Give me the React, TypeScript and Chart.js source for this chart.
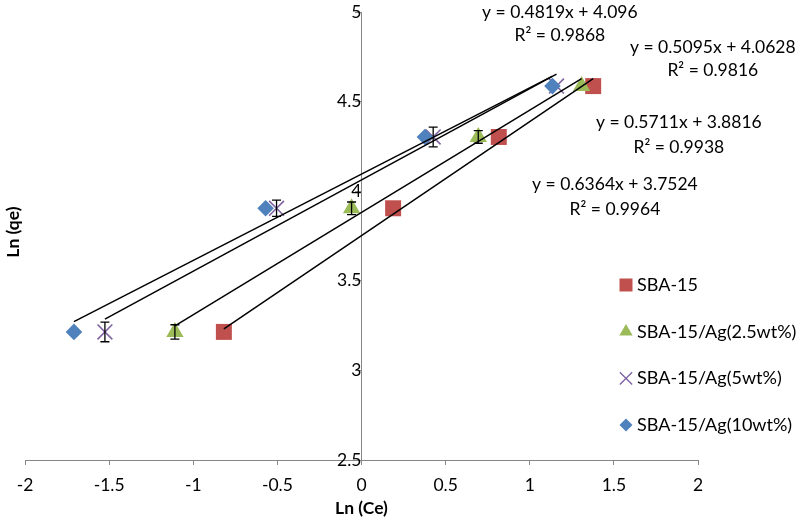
import { useEffect, useRef } from 'react';
import { Chart, registerables } from 'chart.js';
import { drawPoint } from 'chart.js/helpers';

Chart.register(...registerables);

// ---- data ----
const seriesNames = ['SBA-15', 'SBA-15/Ag(2.5wt%)', 'SBA-15/Ag(5wt%)', 'SBA-15/Ag(10wt%)'];
const lnQe = [3.215, 3.905, 4.303, 4.587];
const lnCeSBA15 = [-0.818, 0.188, 0.816, 1.377];
const lnCeAg25 = [-1.109, -0.059, 0.694, 1.308];
const lnCeAg5 = [-1.525, -0.505, 0.426, 1.159];
const lnCeAg10 = [-1.709, -0.57, 0.377, 1.135];
const errSBA15 = [0, 0, 0, 0];
const errAg25 = [0.04, 0.035, 0.035, 0];
const errAg5 = [0.055, 0.045, 0.055, 0];
const errAg10 = [0, 0, 0, 0];
const slopes = [0.6364, 0.5711, 0.5095, 0.4819];
const intercepts = [3.7524, 3.8816, 4.0628, 4.096];
const r2Values = ['0.9964', '0.9938', '0.9816', '0.9868'];
// equation label anchors (data coordinates: x, y of first line, y of second line)
const labelX = [1.506, 1.886, 2.088, 1.179];
const labelY1 = [4.037, 4.382, 4.805, 5.0];
const labelY2 = [3.898, 4.243, 4.677, 4.872];

const xSeries = [lnCeSBA15, lnCeAg25, lnCeAg5, lnCeAg10];
const errSeries = [errSBA15, errAg25, errAg5, errAg10];

// ---- styles ----
const colors = ['#C0504D', '#9BBB59', '#8064A2', '#4F81BD'];
const pointStyles = ['rect', 'triangle', 'crossRot', 'rectRot'];
const pointRadii = [11.3, 10, 10.5, 8.3];
const legendRadii = [9.2, 7.7, 8.7, 6.5];
const FONT = 'Lato';
const FS = 17.5;

export default function App() {
  const ref = useRef<HTMLCanvasElement>(null);

  useEffect(() => {
    document.body.style.margin = '0';
    const canvas = ref.current!;

    const pointSets = seriesNames.map((name, s) => ({
      label: name,
      data: xSeries[s].map((x, i) => ({ x, y: lnQe[i] })),
      errors: errSeries[s],
      pointStyle: pointStyles[s],
      pointRadius: pointRadii[s],
      pointHoverRadius: pointRadii[s],
      backgroundColor: colors[s],
      borderColor: colors[s],
      pointBorderWidth: pointStyles[s] === 'crossRot' ? 1.6 : 0,
      showLine: false,
      order: 5 - s,
    }));

    const trendSets = seriesNames.map((name, s) => {
      const xs = xSeries[s];
      const x0 = Math.min(...xs);
      const x1 = Math.max(...xs);
      return {
        label: name + ' trend',
        data: [
          { x: x0, y: slopes[s] * x0 + intercepts[s] },
          { x: x1, y: slopes[s] * x1 + intercepts[s] },
        ],
        showLine: true,
        pointRadius: 0,
        borderColor: '#000',
        borderWidth: 1.5,
        backgroundColor: '#000',
        order: 0,
      };
    });

    const errorBars = {
      id: 'errorBars',
      afterDatasetDraw(chart: any, args: any) {
        const ds = chart.data.datasets[args.index];
        if (!ds.errors) return;
        const { ctx, scales } = chart;
        const xs = scales.x;
        const ys = scales.y;
        ctx.save();
        ctx.strokeStyle = '#000';
        ctx.lineWidth = 1.3;
        ds.data.forEach((p: any, i: number) => {
          const e = ds.errors[i];
          if (!e) return;
          const px = xs.getPixelForValue(p.x);
          const top = ys.getPixelForValue(p.y + e);
          const bot = ys.getPixelForValue(p.y - e);
          ctx.beginPath();
          ctx.moveTo(px, top);
          ctx.lineTo(px, bot);
          ctx.moveTo(px - 4.5, top);
          ctx.lineTo(px + 4.5, top);
          ctx.moveTo(px - 4.5, bot);
          ctx.lineTo(px + 4.5, bot);
          ctx.stroke();
        });
        ctx.restore();
      },
    };

    const annotations = {
      id: 'annotations',
      afterDraw(chart: any) {
        const { ctx, scales, chartArea } = chart;
        const xs = scales.x;
        const ys = scales.y;
        ctx.save();
        // equations
        ctx.fillStyle = '#000';
        ctx.font = `${FS}px ${FONT}`;
        ctx.textAlign = 'center';
        ctx.textBaseline = 'middle';
        slopes.forEach((m, s) => {
          const cx = xs.getPixelForValue(labelX[s]);
          ctx.fillText(`y = ${m}x + ${intercepts[s]}`, cx, ys.getPixelForValue(labelY1[s]));
          ctx.fillText(`R² = ${r2Values[s]}`, cx, ys.getPixelForValue(labelY2[s]));
        });
        // legend
        const lx = chartArea.right - 72;
        const ly0 = 285;
        const gap = 46.7;
        seriesNames.forEach((name, s) => {
          const y = ly0 + gap * s;
          ctx.fillStyle = colors[s];
          ctx.strokeStyle = colors[s];
          ctx.lineWidth = 1.4;
          drawPoint(ctx, {
            pointStyle: pointStyles[s] as any,
            radius: legendRadii[s],
            rotation: 0,
            borderWidth: pointStyles[s] === 'crossRot' ? 1.4 : 0,
          } as any, lx, y);
          ctx.fillStyle = '#000';
          ctx.textAlign = 'left';
          ctx.textBaseline = 'middle';
          ctx.font = `${FS + 0.5}px ${FONT}`;
          ctx.fillText(name, lx + 11, y);
        });
        // y axis title
        ctx.translate(13, chartArea.top + 220);
        ctx.rotate(-Math.PI / 2);
        ctx.font = `bold ${FS}px ${FONT}`;
        ctx.textAlign = 'center';
        ctx.textBaseline = 'middle';
        ctx.fillText('Ln (qe)', 0, 0);
        ctx.restore();
      },
    };

    const fmt = (v: any) => `${Number(v)}`;

    const chart = new Chart(canvas, {
      type: 'scatter',
      data: { datasets: [...trendSets, ...pointSets] as any },
      options: {
        animation: false,
        responsive: false,
        events: [],
        layout: { padding: { left: 25, right: 101, top: 12, bottom: 0 } },
        plugins: { legend: { display: false }, tooltip: { enabled: false } },
        scales: {
          x: {
            type: 'linear',
            min: -2,
            max: 2,
            ticks: { stepSize: 0.5, color: '#000', font: { family: FONT, size: FS }, padding: 10, callback: fmt },
            grid: { drawOnChartArea: false, drawTicks: true, tickLength: 5, color: '#868686', tickColor: '#868686' },
            border: { color: '#868686', width: 1 },
            title: {
              display: true,
              text: 'Ln (Ce)',
              color: '#000',
              font: { family: FONT, size: FS, weight: 'bold' },
              padding: { top: -8, bottom: 0 },
            },
          },
          y: {
            type: 'linear',
            position: { x: 0 },
            min: 2.5,
            max: 5,
            ticks: { stepSize: 0.5, color: '#000', font: { family: FONT, size: FS, lineHeight: 0.2 }, padding: 10, callback: fmt },
            grid: { drawOnChartArea: false, drawTicks: true, tickLength: 6, color: '#868686', tickColor: '#868686' },
            border: { color: '#868686', width: 1 },
          },
        },
      },
      plugins: [errorBars, annotations],
    });
    return () => chart.destroy();
  }, []);

  return (
    <div style={{ width: 799, height: 519 }}>
      <canvas ref={ref} width={799} height={519} style={{ display: 'block' }} />
    </div>
  );
}
